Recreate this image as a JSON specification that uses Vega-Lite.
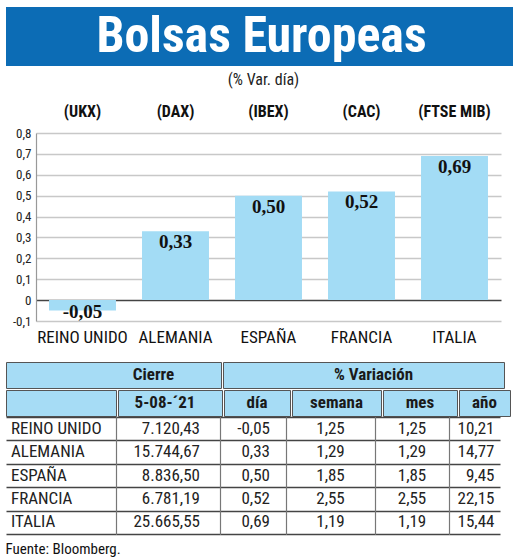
{
  "$schema": "https://vega.github.io/schema/vega-lite/v6.json",
  "background": "white",
  "padding": {"left": 5, "top": 7, "right": 5, "bottom": 0},
  "datasets": {
    "bolsas": [
      {"pais": "REINO UNIDO", "indice": "(UKX)", "cierre": 7120.43, "dia": -0.05, "semana": 1.25, "mes": 1.25, "ano": 10.21},
      {"pais": "ALEMANIA", "indice": "(DAX)", "cierre": 15744.67, "dia": 0.33, "semana": 1.29, "mes": 1.29, "ano": 14.77},
      {"pais": "ESPAÑA", "indice": "(IBEX)", "cierre": 8836.5, "dia": 0.5, "semana": 1.85, "mes": 1.85, "ano": 9.45},
      {"pais": "FRANCIA", "indice": "(CAC)", "cierre": 6781.19, "dia": 0.52, "semana": 2.55, "mes": 2.55, "ano": 22.15},
      {"pais": "ITALIA", "indice": "(FTSE MIB)", "cierre": 25665.55, "dia": 0.69, "semana": 1.19, "mes": 1.19, "ano": 15.44}
    ]
  },
  "spacing": 6,
  "vconcat": [
    {
      "width": 507,
      "height": 59,
      "view": {"fill": "#0c6cb5", "stroke": null},
      "data": {"values": [{}]},
      "mark": {"type": "text", "text": "Bolsas Europeas", "color": "white", "fontSize": 50, "fontWeight": "bold", "font": "Roboto Condensed, Liberation Sans Narrow, DejaVu Sans Condensed, Open Sans", "baseline": "alphabetic", "dy": 15, "dx": 2}
    },
    {
      "spacing": 16,
      "vconcat": [
        {
          "width": 495,
          "height": 188,
          "title": {"text": "(% Var. día)", "fontSize": 16, "fontWeight": "normal", "font": "Roboto Condensed, Liberation Sans Narrow, DejaVu Sans Condensed, Open Sans", "color": "#222", "offset": 15, "dx": 10},
          "data": {"name": "bolsas"},
          "encoding": {
            "y": {"field": "dia", "type": "quantitative", "scale": {"domain": [-0.1, 0.8], "nice": false},
              "axis": {"title": null, "offset": -30, "values": [-0.1, 0, 0.1, 0.2, 0.3, 0.4, 0.5, 0.6, 0.7, 0.8], "format": ".1~f", "labelOverlap": false, "labelBound": false, "grid": true,
                "gridColor": {"condition": {"test": "datum.value === 0", "value": "#444"}, "value": "#c8c8c8"},
                "gridWidth": 1.5, "domain": true, "domainColor": "#999", "domainWidth": 1.2, "ticks": false, "labelPadding": 5, "labelFontSize": 13, "labelColor": "#222", "labelFont": "Roboto Condensed, Liberation Sans Narrow, DejaVu Sans Condensed, Open Sans", "minExtent": 0, "maxExtent": 25}}
          },
          "layer": [
            {
              "mark": {"type": "bar", "color": "#a3dcf5"},
              "encoding": {
                "x": {"field": "pais", "type": "nominal", "sort": null, "scale": {"range": [30, 495], "paddingInner": 0.28, "paddingOuter": 0.14},
                  "axis": {"orient": "bottom", "title": null, "labelAngle": 0, "domain": false, "ticks": false, "labelPadding": 8, "labelFontSize": 17, "labelColor": "#111", "labelFont": "Roboto Condensed, Liberation Sans Narrow, DejaVu Sans Condensed, Open Sans"}}
              }
            },
            {
              "transform": [{"filter": "datum.dia >= 0"}],
              "mark": {"type": "text", "font": "Liberation Serif", "fontWeight": "bold", "fontSize": 19, "color": "#111", "baseline": "middle", "dy": 11},
              "encoding": {
                "x": {"field": "pais", "type": "nominal", "sort": null, "axis": null},
                "text": {"field": "dia", "type": "quantitative", "format": ".2f"}
              }
            },
            {
              "transform": [{"filter": "datum.dia < 0"}],
              "mark": {"type": "text", "font": "Liberation Serif", "fontWeight": "bold", "fontSize": 19, "color": "#111", "baseline": "middle", "dy": 1},
              "encoding": {
                "x": {"field": "pais", "type": "nominal", "sort": null, "axis": null},
                "text": {"field": "dia", "type": "quantitative", "format": ".2f"}
              }
            },
            {
              "mark": {"type": "text", "text": ""},
              "encoding": {
                "x": {"field": "pais", "type": "nominal", "sort": null,
                  "axis": {"orient": "top", "title": null, "labelAngle": 0, "domain": false, "ticks": false, "labelPadding": 14, "labelFontSize": 16, "labelFontWeight": "bold", "labelColor": "#111", "labelFont": "Roboto Condensed, Liberation Sans Narrow, DejaVu Sans Condensed, Open Sans",
                    "labelExpr": "datum.value == 'REINO UNIDO' ? '(UKX)' : datum.value == 'ALEMANIA' ? '(DAX)' : datum.value == 'ESPAÑA' ? '(IBEX)' : datum.value == 'FRANCIA' ? '(CAC)' : '(FTSE MIB)'"}}
              }
            }
          ],
          "resolve": {"axis": {"x": "independent"}}
        },
        {
          "spacing": 0,
          "title": {"text": "Fuente: Bloomberg.", "orient": "bottom", "anchor": "start", "fontSize": 15, "fontWeight": "normal", "font": "Roboto Condensed, Liberation Sans Narrow, DejaVu Sans Condensed, Open Sans", "color": "#111", "offset": 8},
          "vconcat": [
            {
              "spacing": 0,
              "hconcat": [
                {"width": 215, "height": 26, "view": {"fill": "#a6dcf5", "stroke": "#555"}, "data": {"values": [{}]},
                  "mark": {"type": "text", "text": "Cierre", "fontSize": 17, "fontWeight": "bold", "color": "#1a1a1a", "dx": 40, "font": "Roboto Condensed, Liberation Sans Narrow, DejaVu Sans Condensed, Open Sans"}},
                {"width": 281, "height": 26, "view": {"fill": "#a6dcf5", "stroke": "#555"}, "data": {"values": [{}]},
                  "mark": {"type": "text", "text": "% Variación", "fontSize": 17, "fontWeight": "bold", "color": "#1a1a1a", "dx": 10, "font": "Roboto Condensed, Liberation Sans Narrow, DejaVu Sans Condensed, Open Sans"}}
              ]
            },
            {
              "spacing": 0,
              "hconcat": [
                {"width": 110, "height": 26, "view": {"fill": "#a6dcf5", "stroke": "#555"}, "data": {"values": [{}]},
                  "mark": {"type": "text", "text": "", "fontSize": 17}},
                {"width": 104, "height": 26, "view": {"fill": "#a6dcf5", "stroke": "#555"}, "data": {"values": [{}]},
                  "mark": {"type": "text", "text": "5-08-´21", "fontSize": 17, "fontWeight": "bold", "color": "#1a1a1a", "dx": -5, "font": "Roboto Condensed, Liberation Sans Narrow, DejaVu Sans Condensed, Open Sans"}},
                {"width": 66, "height": 26, "view": {"fill": "#a6dcf5", "stroke": "#555"}, "data": {"values": [{}]},
                  "mark": {"type": "text", "text": "día", "fontSize": 17, "fontWeight": "bold", "color": "#1a1a1a", "font": "Roboto Condensed, Liberation Sans Narrow, DejaVu Sans Condensed, Open Sans"}},
                {"width": 89, "height": 26, "view": {"fill": "#a6dcf5", "stroke": "#555"}, "data": {"values": [{}]},
                  "mark": {"type": "text", "text": "semana", "fontSize": 17, "fontWeight": "bold", "color": "#1a1a1a", "font": "Roboto Condensed, Liberation Sans Narrow, DejaVu Sans Condensed, Open Sans"}},
                {"width": 74, "height": 26, "view": {"fill": "#a6dcf5", "stroke": "#555"}, "data": {"values": [{}]},
                  "mark": {"type": "text", "text": "mes", "fontSize": 17, "fontWeight": "bold", "color": "#1a1a1a", "font": "Roboto Condensed, Liberation Sans Narrow, DejaVu Sans Condensed, Open Sans"}},
                {"width": 51, "height": 26, "view": {"fill": "#a6dcf5", "stroke": "#555"}, "data": {"values": [{}]},
                  "mark": {"type": "text", "text": "año", "fontSize": 17, "fontWeight": "bold", "color": "#1a1a1a", "font": "Roboto Condensed, Liberation Sans Narrow, DejaVu Sans Condensed, Open Sans"}}
              ]
            },
            {
              "spacing": 0,
              "hconcat": [
                {"width": 110, "height": 117, "data": {"name": "bolsas"},
                  "mark": {"type": "text", "align": "left", "dx": -50, "fontSize": 17, "color": "#222", "font": "Roboto Condensed, Liberation Sans Narrow, DejaVu Sans Condensed, Open Sans"},
                  "encoding": {
                    "y": {"field": "pais", "type": "nominal", "sort": null, "scale": {"paddingInner": 0, "paddingOuter": 0},
                      "axis": {"title": null, "labels": false, "ticks": false, "domain": false, "grid": true, "gridColor": "#444", "gridWidth": 1.5, "tickBand": "extent", "minExtent": 0, "maxExtent": 0}},
                    "text": {"field": "pais", "type": "nominal"}
                  }},
                {"width": 104, "height": 117, "data": {"name": "bolsas"},
                  "mark": {"type": "text", "align": "right", "dx": 32, "fontSize": 17, "color": "#222", "font": "Roboto Condensed, Liberation Sans Narrow, DejaVu Sans Condensed, Open Sans"},
                  "encoding": {
                    "y": {"field": "pais", "type": "nominal", "sort": null, "scale": {"paddingInner": 0, "paddingOuter": 0},
                      "axis": {"title": null, "labels": false, "ticks": false, "domain": true, "domainColor": "#777", "domainWidth": 1.2, "grid": true, "gridColor": "#444", "gridWidth": 1.5, "tickBand": "extent", "minExtent": 0, "maxExtent": 0}},
                    "text": {"field": "cierre", "type": "quantitative", "format": ",.2f"}
                  }},
                {"width": 66, "height": 117, "data": {"name": "bolsas"},
                  "mark": {"type": "text", "align": "right", "dx": 17, "fontSize": 17, "color": "#222", "font": "Roboto Condensed, Liberation Sans Narrow, DejaVu Sans Condensed, Open Sans"},
                  "encoding": {
                    "y": {"field": "pais", "type": "nominal", "sort": null, "scale": {"paddingInner": 0, "paddingOuter": 0},
                      "axis": {"title": null, "labels": false, "ticks": false, "domain": true, "domainColor": "#777", "domainWidth": 1.2, "grid": true, "gridColor": "#444", "gridWidth": 1.5, "tickBand": "extent", "minExtent": 0, "maxExtent": 0}},
                    "text": {"field": "dia", "type": "quantitative", "format": ".2f"}
                  }},
                {"width": 89, "height": 117, "data": {"name": "bolsas"},
                  "mark": {"type": "text", "align": "center", "fontSize": 17, "color": "#222", "font": "Roboto Condensed, Liberation Sans Narrow, DejaVu Sans Condensed, Open Sans"},
                  "encoding": {
                    "y": {"field": "pais", "type": "nominal", "sort": null, "scale": {"paddingInner": 0, "paddingOuter": 0},
                      "axis": {"title": null, "labels": false, "ticks": false, "domain": true, "domainColor": "#777", "domainWidth": 1.2, "grid": true, "gridColor": "#444", "gridWidth": 1.5, "tickBand": "extent", "minExtent": 0, "maxExtent": 0}},
                    "text": {"field": "semana", "type": "quantitative", "format": ".2f"}
                  }},
                {"width": 74, "height": 117, "data": {"name": "bolsas"},
                  "mark": {"type": "text", "align": "center", "fontSize": 17, "color": "#222", "font": "Roboto Condensed, Liberation Sans Narrow, DejaVu Sans Condensed, Open Sans"},
                  "encoding": {
                    "y": {"field": "pais", "type": "nominal", "sort": null, "scale": {"paddingInner": 0, "paddingOuter": 0},
                      "axis": {"title": null, "labels": false, "ticks": false, "domain": true, "domainColor": "#777", "domainWidth": 1.2, "grid": true, "gridColor": "#444", "gridWidth": 1.5, "tickBand": "extent", "minExtent": 0, "maxExtent": 0}},
                    "text": {"field": "mes", "type": "quantitative", "format": ".2f"}
                  }},
                {"width": 51, "height": 117, "data": {"name": "bolsas"},
                  "mark": {"type": "text", "align": "right", "dx": 20, "fontSize": 17, "color": "#222", "font": "Roboto Condensed, Liberation Sans Narrow, DejaVu Sans Condensed, Open Sans"},
                  "encoding": {
                    "y": {"field": "pais", "type": "nominal", "sort": null, "scale": {"paddingInner": 0, "paddingOuter": 0},
                      "axis": {"title": null, "labels": false, "ticks": false, "domain": true, "domainColor": "#777", "domainWidth": 1.2, "grid": true, "gridColor": "#444", "gridWidth": 1.5, "tickBand": "extent", "minExtent": 0, "maxExtent": 0}},
                    "text": {"field": "ano", "type": "quantitative", "format": ".2f"}
                  }}
              ]
            }
          ]
        }
      ]
    }
  ],
  "config": {
    "view": {"stroke": null},
    "axisQuantitative": {"labelOverlap": false},
    "locale": {"number": {"decimal": ",", "thousands": ".", "grouping": [3], "currency": ["", " €"], "minus": "-"}}
  }
}
